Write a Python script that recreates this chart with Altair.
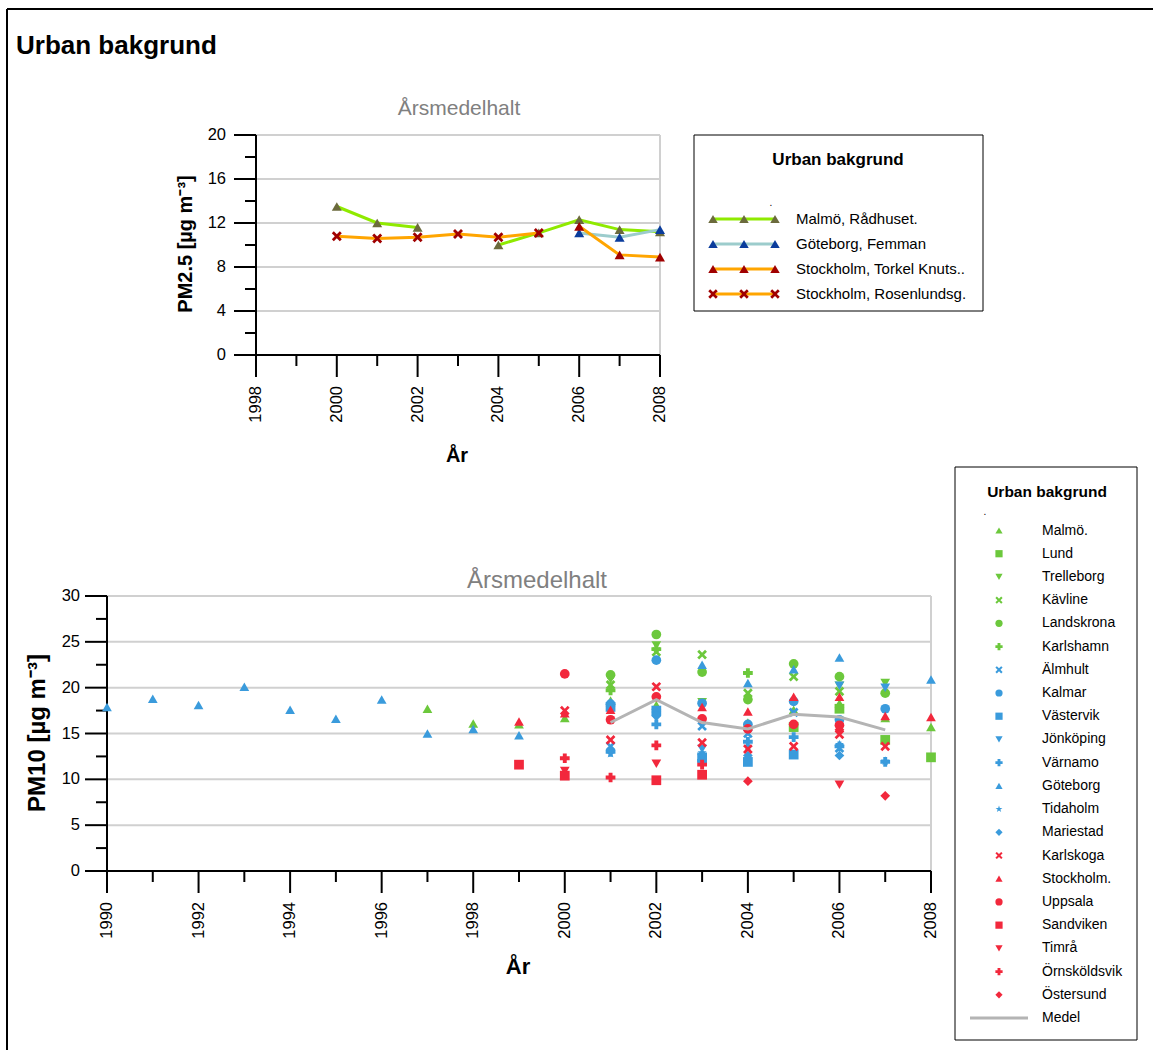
import altair as alt
import pandas as pd

W, H = 1153, 1050
FONT = "Liberation Sans"

# ---------------- PM2.5 (annual means) ----------------
pm25_years = [2000, 2001, 2002, 2003, 2004, 2005, 2006, 2007, 2008]
pm25_labels = ["Malmö, Rådhuset.", "Göteborg, Femman",
               "Stockholm, Torkel Knuts..", "Stockholm, Rosenlundsg."]
pm25_malmo = [13.5, 12.0, 11.6, None, 10.0, 11.1, 12.3, 11.4, 11.2]
pm25_goteborg = [None, None, None, None, None, None, 11.1, 10.7, 11.4]
pm25_torkel = [None, None, None, None, None, None, 11.7, 9.1, 8.9]
pm25_rosenlund = [10.8, 10.6, 10.7, 11.0, 10.7, 11.1, None, None, None]
pm25_ticks = [0, 4, 8, 12, 16, 20]
pm25_minor = [2, 6, 10, 14, 18]
pm25_year_ticks = [1998, 2000, 2002, 2004, 2006, 2008]
pm25_year_minor = [1999, 2001, 2003, 2005, 2007]

# ---------------- PM10 (annual means) ----------------
pm10_years = list(range(1990, 2009))
pm10_goteborg = [17.9, 18.8, 18.1, 20.1, 17.6, 16.6, 18.7, 15.0, 15.5, 14.8,
                 None, 18.4, 17.4, 22.5, 20.5, 22.0, 23.3, None, 20.9]
pm10_malmo = [None] * 7 + [17.7, 16.1, 16.0, 16.7, 18.6, 18.1, None, 16.2, 17.6, 18.3, 16.7, 15.7]
pm10_lund = [None] * 15 + [15.7, 17.7, 14.3, 12.4]
pm10_trelleborg = [None] * 11 + [20.9, 24.6, 18.4, None, None, 20.2, 20.5, None]
pm10_kavline = [None] * 11 + [20.3, 23.9, 23.6, 19.4, 21.2, 19.6, None, None]
pm10_landskrona = [None] * 11 + [21.4, 25.8, 21.7, 18.7, 22.6, 21.2, 19.4, None]
pm10_karlshamn = [None] * 11 + [19.7, 24.2, None, 21.6, None, None, None, None]
pm10_almhult = [None] * 11 + [13.6, 17.3, 15.8, 15.0, 17.3, 13.4, None, None]
pm10_kalmar = [None] * 11 + [18.2, 23.0, 18.3, 16.0, 18.5, 16.5, 17.7, None]
pm10_vastervik = [None] * 11 + [17.9, 17.5, 12.4, 11.9, 12.7, None, None, None]
pm10_jonkoping = [None] * 11 + [None, 16.9, 13.3, None, None, 20.2, 20.0, None]
pm10_varnamo = [None] * 11 + [13.0, 16.0, 12.0, 14.1, 14.6, 13.6, 11.9, None]
pm10_tidaholm = [None] * 11 + [12.8, 17.1, 12.9, 13.6, None, 13.8, 12.0, None]
pm10_mariestad = [None] * 11 + [13.2, 16.9, 12.7, 12.6, None, 12.6, None, None]
pm10_karlskoga = [None] * 10 + [17.5, 14.3, 20.1, 14.0, 13.3, 13.6, 14.9, 13.6, None]
pm10_stockholm = [None] * 9 + [16.3, 17.2, 17.6, None, 17.9, 17.4, 19.0, 19.0, 16.9, 16.8]
pm10_uppsala = [None] * 10 + [21.5, 16.5, 19.0, 16.6, 15.5, 16.0, 15.9, None, None]
pm10_sandviken = [None] * 9 + [11.6, 10.4, None, 9.9, 10.5, None, None, None, None, None]
pm10_timra = [None] * 10 + [10.9, None, 11.7, None, None, None, 9.4, None, None]
pm10_ornskoldsvik = [None] * 10 + [12.3, 10.2, 13.7, 11.6, None, None, None, None, None]
pm10_ostersund = [None] * 14 + [9.8, None, 15.4, 8.2, None]
pm10_medel = [None] * 11 + [16.2, 18.7, 16.2, 15.5, 17.1, 16.8, 15.4, None]
pm10_ticks = [0, 5, 10, 15, 20, 25, 30]
pm10_minor = [2.5, 7.5, 12.5, 17.5, 22.5, 27.5]
pm10_year_ticks = list(range(1990, 2009, 2))
pm10_year_minor = list(range(1991, 2008, 2))

pm10_labels = ["Malmö.", "Lund", "Trelleborg", "Kävline", "Landskrona", "Karlshamn",
               "Älmhult", "Kalmar", "Västervik", "Jönköping", "Värnamo", "Göteborg",
               "Tidaholm", "Mariestad", "Karlskoga", "Stockholm.", "Uppsala",
               "Sandviken", "Timrå", "Örnsköldsvik", "Östersund"]
pm10_series = [pm10_malmo, pm10_lund, pm10_trelleborg, pm10_kavline, pm10_landskrona,
               pm10_karlshamn, pm10_almhult, pm10_kalmar, pm10_vastervik, pm10_jonkoping,
               pm10_varnamo, pm10_goteborg, pm10_tidaholm, pm10_mariestad, pm10_karlskoga,
               pm10_stockholm, pm10_uppsala, pm10_sandviken, pm10_timra,
               pm10_ornskoldsvik, pm10_ostersund]

# ---------------- styling ----------------
GREEN, BLUE, RED = "#6CC83C", "#3A9BDC", "#F2283C"
GRID = "#D0D0D0"
MEDEL = "#B4B4B4"
X_PATH = ("M-1,-0.6L-0.6,-1L0,-0.4L0.6,-1L1,-0.6L0.4,0L1,0.6L0.6,1L0,0.4"
          "L-0.6,1L-1,0.6L-0.4,0Z")
STAR_PATH = ("M0,-1L0.235,-0.324L0.951,-0.309L0.38,0.124L0.588,0.809L0,0.4"
             "L-0.588,0.809L-0.38,0.124L-0.951,-0.309L-0.235,-0.324Z")

pm25_style = [
    ("#8FEA00", "#6B6A3C", "triangle-up"),
    ("#9CCCCC", "#0A3C9C", "triangle-up"),
    ("#FFA500", "#A00000", "triangle-up"),
    ("#FFA500", "#A00000", X_PATH),
]
pm10_shapes = ["triangle-up", "square", "triangle-down", X_PATH, "circle", "cross",
               X_PATH, "circle", "square", "triangle-down", "cross", "triangle-up",
               STAR_PATH, "diamond",
               X_PATH, "triangle-up", "circle", "square", "triangle-down", "cross", "diamond"]
pm10_colors = [GREEN] * 6 + [BLUE] * 8 + [RED] * 7

# ---------------- tables ----------------
pm25_series = [pm25_malmo, pm25_goteborg, pm25_torkel, pm25_rosenlund]
rows25 = []
for i, (label, vals) in enumerate(zip(pm25_labels, pm25_series)):
    seg = 0
    for yr, v in zip(pm25_years, vals):
        if v is None:
            seg += 1
            continue
        rows25.append(dict(station=label, year=yr, value=v, seg=f"{i}-{seg}",
                           line=pm25_style[i][0], marker=pm25_style[i][1],
                           shape=pm25_style[i][2]))
df25 = pd.DataFrame(rows25)

rows10 = []
for i, (label, vals) in enumerate(zip(pm10_labels, pm10_series)):
    for yr, v in zip(pm10_years, vals):
        if v is not None:
            rows10.append(dict(station=label, year=yr, value=v,
                               color=pm10_colors[i], shape=pm10_shapes[i]))
df10 = pd.DataFrame(rows10)
df_medel = pd.DataFrame([dict(year=yr, value=v) for yr, v in zip(pm10_years, pm10_medel)
                         if v is not None])

one = pd.DataFrame({"k": [0]})


def text_mark(txt, x, y, size, bold=False, color="black", angle=0,
              align="center", baseline="middle"):
    return alt.Chart(one).mark_text(
        text=txt, font=FONT, fontSize=size, fontWeight="bold" if bold else "normal",
        color=color, angle=angle, align=align, baseline=baseline,
    ).encode(x=alt.value(x), y=alt.value(y))


def panel(df_points, point_color, point_size, lines, xdom, xrange, ydom, yrange,
          x_ticks, x_minor, y_ticks, y_minor, extra_lines=None, ylab_off=-28):
    xs = alt.Scale(domain=xdom, range=xrange, nice=False, zero=False)
    ys = alt.Scale(domain=ydom, range=yrange, nice=False, zero=False)
    X0 = alt.XDatum(xdom[0], type="quantitative", scale=xs, axis=None)
    Y0 = alt.YDatum(ydom[0], type="quantitative", scale=ys, axis=None)

    def xf(f):
        return alt.X(f"{f}:Q", scale=xs, axis=None)

    def yf(f):
        return alt.Y(f"{f}:Q", scale=ys, axis=None)

    ytick_df = pd.DataFrame({"t": y_ticks, "lab": [f"{t:g}" for t in y_ticks]})
    xtick_df = pd.DataFrame({"t": x_ticks, "lab": [str(t) for t in x_ticks]})

    grid = alt.Chart(pd.DataFrame({"g": y_ticks[1:]})).mark_rule(
        color=GRID, strokeWidth=2).encode(y=yf("g"), x=X0, x2=alt.X2Datum(xdom[1]))
    edge = alt.Chart(one).mark_rule(color=GRID, strokeWidth=2).encode(
        x=alt.XDatum(xdom[1], type="quantitative", scale=xs, axis=None),
        y=Y0, y2=alt.Y2Datum(ydom[1]))
    # axis lines
    y_domain = alt.Chart(one).mark_rule(color="black", strokeWidth=2).encode(
        x=X0, y=Y0, y2=alt.Y2Datum(ydom[1]))
    x_domain = alt.Chart(one).mark_rule(color="black", strokeWidth=2).encode(
        y=Y0, x=X0, x2=alt.X2Datum(xdom[1]))
    # ticks: major 22 px, minor 11 px
    y_major = alt.Chart(ytick_df).mark_rule(color="black", strokeWidth=2, xOffset=-22).encode(
        y=yf("t"), x=X0, x2=alt.X2Datum(xdom[0]))
    y_min = alt.Chart(pd.DataFrame({"m": y_minor})).mark_rule(
        color="black", strokeWidth=2, xOffset=-11).encode(
        y=yf("m"), x=X0, x2=alt.X2Datum(xdom[0]))
    x_major = alt.Chart(xtick_df).mark_rule(color="black", strokeWidth=2, y2Offset=22).encode(
        x=xf("t"), y=Y0, y2=alt.Y2Datum(ydom[0]))
    x_min = alt.Chart(pd.DataFrame({"m": x_minor})).mark_rule(
        color="black", strokeWidth=2, y2Offset=11).encode(
        x=xf("m"), y=Y0, y2=alt.Y2Datum(ydom[0]))
    # tick labels
    y_labels = alt.Chart(ytick_df).mark_text(
        font=FONT, fontSize=16.5, color="black", align="right", baseline="middle",
        xOffset=ylab_off).encode(y=yf("t"), x=X0, text="lab:N")
    x_labels = alt.Chart(xtick_df).mark_text(
        font=FONT, fontSize=16.5, color="black", align="right", baseline="middle",
        angle=270, yOffset=31).encode(x=xf("t"), y=Y0, text="lab:N")

    layers = [grid, edge, y_domain, x_domain, y_major, y_min, x_major, x_min,
              y_labels, x_labels]
    if lines is not None:
        layers.append(alt.Chart(lines).mark_line(strokeWidth=3).encode(
            x=xf("year"), y=yf("value"), color=alt.Color("line:N", scale=None),
            detail="seg:N"))
    layers.append(alt.Chart(df_points).mark_point(
        filled=True, size=point_size, opacity=1).encode(
        x=xf("year"), y=yf("value"),
        color=alt.Color(f"{point_color}:N", scale=None),
        shape=alt.Shape("shape:N", scale=None)))
    if extra_lines is not None:
        layers.append(alt.Chart(extra_lines).mark_line(
            color=MEDEL, strokeWidth=3).encode(x=xf("year"), y=yf("value")))
    return layers


# ---------------- PM2.5 panel ----------------
top_layers = panel(df25, "marker", 100, df25, [1998, 2008], [256, 660], [0, 20], [355, 135],
                   pm25_year_ticks, pm25_year_minor, pm25_ticks, pm25_minor, ylab_off=-30)
top = alt.layer(
    *top_layers,
    text_mark("Årsmedelhalt", 459, 109, 21, color="#808080"),
    text_mark("PM2.5 [µg m⁻³]", 186, 244, 20, bold=True, angle=270),
    text_mark("År", 457, 456, 20, bold=True),
)

# ---------------- PM10 panel ----------------
bottom_layers = panel(df10, "color", 95, None, [1990, 2008], [107, 931], [0, 30], [871, 596],
                      pm10_year_ticks, pm10_year_minor, pm10_ticks, pm10_minor,
                      extra_lines=df_medel, ylab_off=-27)
bottom = alt.layer(
    *bottom_layers,
    text_mark("Årsmedelhalt", 537, 581, 24, color="#808080"),
    text_mark("PM10 [µg m⁻³]", 38, 733, 24, bold=True, angle=270),
    text_mark("År", 518, 967, 22, bold=True),
)

# ---------------- PM2.5 legend ----------------
leg25 = pd.DataFrame([dict(idx=i, label=l, line=s[0], marker=s[1], shape=s[2])
                      for i, (l, s) in enumerate(zip(pm25_labels, pm25_style))])
leg25_pts = pd.concat([leg25.assign(slot=k) for k in range(3)], ignore_index=True)
ly25 = alt.Y("idx:Q", scale=alt.Scale(domain=[0, 3], range=[219, 294]), axis=None)
legend_top = alt.layer(
    alt.Chart(one).mark_rect(fill="white", stroke="black", strokeWidth=1).encode(
        x=alt.value(694), x2=alt.value(983), y=alt.value(135), y2=alt.value(311)),
    text_mark("Urban bakgrund", 838, 165, 17, bold=True, baseline="alphabetic"),
    text_mark(".", 771, 203, 10),
    alt.Chart(leg25).mark_rule(strokeWidth=3).encode(
        y=ly25, x=alt.value(713), x2=alt.value(775),
        color=alt.Color("line:N", scale=None)),
    alt.Chart(leg25_pts).mark_point(filled=True, size=90, opacity=1).encode(
        y=ly25,
        x=alt.X("slot:Q", scale=alt.Scale(domain=[0, 2], range=[713, 775]), axis=None),
        color=alt.Color("marker:N", scale=None),
        shape=alt.Shape("shape:N", scale=None)),
    alt.Chart(leg25).mark_text(font=FONT, fontSize=15, align="left",
                               baseline="middle", color="black").encode(
        y=ly25, x=alt.value(796), text="label:N"),
)

# ---------------- PM10 legend ----------------
leg10 = pd.DataFrame([dict(idx=i, label=l, color=c, shape=s)
                      for i, (l, c, s) in enumerate(zip(pm10_labels, pm10_colors, pm10_shapes))])
leg10_text = pd.concat([leg10[["idx", "label"]],
                        pd.DataFrame([dict(idx=len(pm10_labels), label="Medel")])],
                       ignore_index=True)
leg_medel = pd.DataFrame([dict(idx=len(pm10_labels))])
ly10 = alt.Y("idx:Q", scale=alt.Scale(domain=[0, 21], range=[530.5, 1018]), axis=None)
legend_bottom = alt.layer(
    alt.Chart(one).mark_rect(fill="white", stroke="black", strokeWidth=1).encode(
        x=alt.value(955), x2=alt.value(1137), y=alt.value(467), y2=alt.value(1040)),
    text_mark("Urban bakgrund", 1047, 497, 15.5, bold=True, baseline="alphabetic"),
    text_mark(".", 985, 512, 10),
    alt.Chart(leg10).mark_point(filled=True, size=52, opacity=1).encode(
        y=ly10, x=alt.value(999),
        color=alt.Color("color:N", scale=None),
        shape=alt.Shape("shape:N", scale=None)),
    alt.Chart(leg_medel).mark_rule(color=MEDEL, strokeWidth=3).encode(
        y=ly10, x=alt.value(970), x2=alt.value(1028)),
    alt.Chart(leg10_text).mark_text(font=FONT, fontSize=14, align="left",
                                    baseline="middle", color="black").encode(
        y=ly10, x=alt.value(1042), text="label:N"),
)

# ---------------- page frame and heading ----------------
page = alt.layer(
    alt.Chart(one).mark_rule(color="black", strokeWidth=2).encode(
        x=alt.value(7), x2=alt.value(W), y=alt.value(9)),
    alt.Chart(one).mark_rule(color="black", strokeWidth=2).encode(
        x=alt.value(7), y=alt.value(9), y2=alt.value(H)),
    text_mark("Urban bakgrund", 16, 54, 26, bold=True, align="left", baseline="alphabetic"),
)

chart = alt.layer(page, top, bottom, legend_top, legend_bottom).resolve_scale(
    x="independent", y="independent"
).properties(
    width=W, height=H, autosize=alt.AutoSizeParams(type="none"), padding=0,
    background="white",
).configure_view(stroke=None)

chart.save("out.html", embed_options={"renderer": "svg", "actions": False})
